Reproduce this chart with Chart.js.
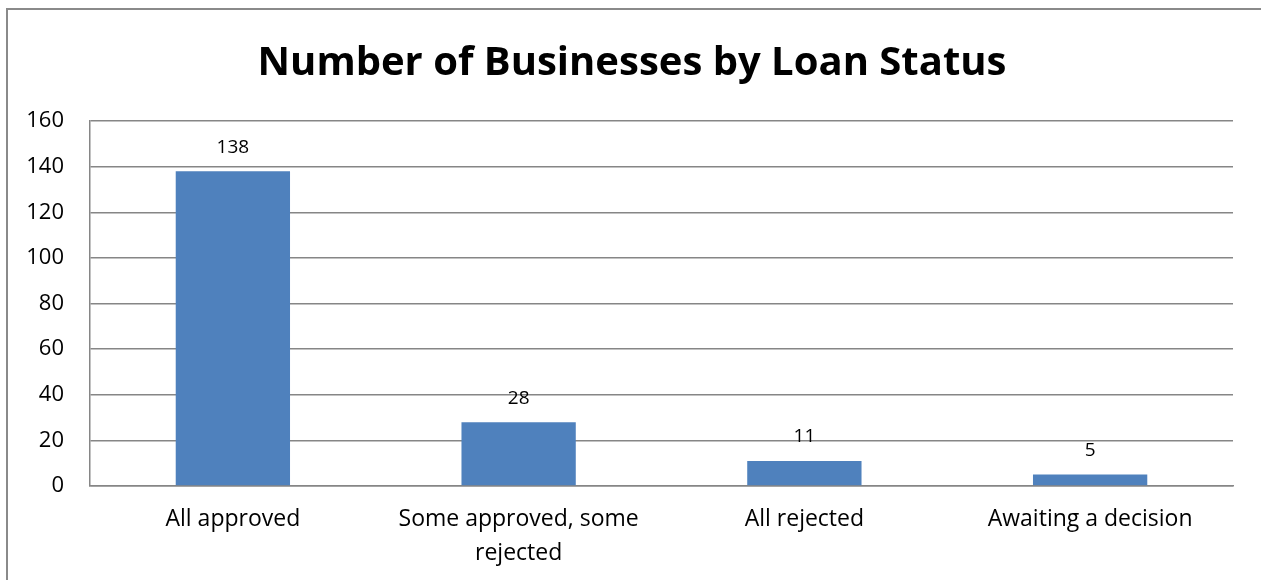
<!DOCTYPE html>
<html>
<head>
<meta charset="utf-8">
<script src="https://cdn.jsdelivr.net/npm/chart.js@4"></script>
<style>
  html, body { margin: 0; padding: 0; background: #fff; }
  #wrap { position: relative; width: 1261px; height: 580px; }
  canvas { display: block; }
</style>
</head>
<body>
<div id="wrap"><canvas id="c" width="1261" height="580"></canvas></div>
<script>
// Loan status categories and business counts
const categories = ["All approved", "Some approved, some rejected", "All rejected", "Awaiting a decision"];
const businessCounts = [138, 28, 11, 5];
const yTicks = [0, 20, 40, 60, 80, 100, 120, 140, 160];
const chartTitle = "Number of Businesses by Loan Status";

const FONT = "'Open Sans', 'DejaVu Sans', sans-serif";
const GRID = "#868686";
const BAR = "#4F81BD";

// Break long category names into lines that fit the category slot
const measureCtx = document.createElement("canvas").getContext("2d");
function wrapLabel(text, maxWidth, font) {
  measureCtx.font = font;
  const words = text.split(" ");
  const lines = [];
  let line = "";
  for (const w of words) {
    const test = line ? line + " " + w : w;
    if (measureCtx.measureText(test).width > maxWidth && line) {
      lines.push(line);
      line = w;
    } else {
      line = test;
    }
  }
  if (line) lines.push(line);
  return lines.length === 1 ? lines[0] : lines;
}

// Outer frame of the chart object (top and left edges) and the title
const framePlugin = {
  id: "frame",
  beforeDraw(chart) {
    const ctx = chart.ctx;
    ctx.save();
    ctx.strokeStyle = "#8a8a8a";
    ctx.lineWidth = 2;
    ctx.beginPath();
    ctx.moveTo(7, chart.height);
    ctx.lineTo(7, 9);
    ctx.lineTo(chart.width, 9);
    ctx.stroke();

    ctx.font = "bold 40px " + FONT;
    ctx.fillStyle = "#000";
    ctx.textAlign = "center";
    ctx.textBaseline = "alphabetic";
    ctx.fillText(chartTitle, 632, 75);
    ctx.restore();
  }
};

// Value labels above each bar
const valueLabels = {
  id: "valueLabels",
  afterDatasetsDraw(chart) {
    const ctx = chart.ctx;
    ctx.save();
    ctx.font = "19px " + FONT;
    ctx.fillStyle = "#000";
    ctx.textAlign = "center";
    ctx.textBaseline = "middle";
    chart.data.datasets.forEach((ds, di) => {
      chart.getDatasetMeta(di).data.forEach((bar, i) => {
        ctx.fillText(String(ds.data[i]), bar.x, bar.y - 24);
      });
    });
    ctx.restore();
  }
};

new Chart(document.getElementById("c"), {
  type: "bar",
  data: {
    labels: categories,
    datasets: [{
      data: businessCounts,
      backgroundColor: BAR,
      borderWidth: 0,
      barPercentage: 0.4,
      categoryPercentage: 1.0
    }]
  },
  options: {
    responsive: false,
    animation: false,
    devicePixelRatio: 1,
    layout: { padding: { left: 0, right: 28, top: 121, bottom: 0 } },
    plugins: {
      legend: { display: false },
      tooltip: { enabled: false },
      title: { display: false }
    },
    scales: {
      x: {
        grid: { display: false, drawTicks: false },
        border: { display: true, color: GRID, width: 1.5 },
        ticks: {
          color: "#000",
          font: { family: FONT, size: 23, lineHeight: 1.45 },
          padding: 17,
          maxRotation: 0,
          autoSkip: false,
          callback: function (value) {
            return wrapLabel(this.getLabelForValue(value), 265, "23px " + FONT);
          }
        },
        afterFit(scale) { scale.height = 94; }
      },
      y: {
        min: 0,
        max: 160,
        afterBuildTicks(scale) { scale.ticks = yTicks.map(v => ({ value: v })); },
        grid: { color: GRID, lineWidth: 1.5, drawTicks: false },
        border: { display: true, color: GRID, width: 1.5 },
        ticks: {
          color: "#000",
          font: { family: FONT, size: 22 },
          padding: 26
        },
        afterFit(scale) { scale.width = 90; }
      }
    }
  },
  plugins: [framePlugin, valueLabels]
});
</script>
</body>
</html>
